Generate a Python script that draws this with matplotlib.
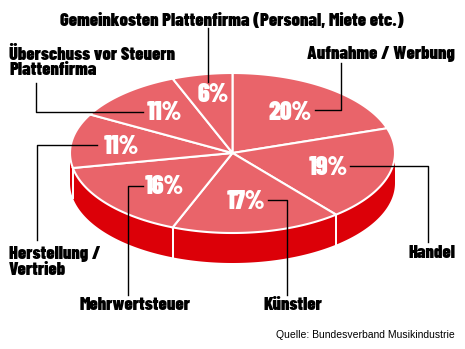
import numpy as np
import matplotlib
matplotlib.use("Agg")
import matplotlib.pyplot as plt
from matplotlib.patches import Polygon

# slices, clockwise from 12 o'clock
labels = ["Aufnahme / Werbung", "Handel", "Künstler", "Mehrwertsteuer",
          "Herstellung /\nVertrieb", "Überschuss vor Steuern\nPlattenfirma",
          "Gemeinkosten Plattenfirma (Personal, Miete etc.)"]
shares = [20, 19, 17, 16, 11, 11, 6]
source = "Quelle: Bundesverband Musikindustrie"

top_color = "#E9646A"
side_color = "#DC0008"
bold_font = ["Barlow Condensed", "DejaVu Sans"]

# ellipse geometry in pixel space
cx, cy, rx, ry, depth = 232.5, 153, 162.5, 80, 30


def ell(theta_deg, dy=0):
    t = np.radians(theta_deg)
    return cx + rx * np.sin(t), cy - ry * np.cos(t) + dy


fig = plt.figure(figsize=(4.65, 3.49), dpi=100)
ax = fig.add_axes([0, 0, 1, 1])
ax.set_xlim(0, 465)
ax.set_ylim(349, 0)
ax.axis("off")

bounds = np.concatenate([[0], np.cumsum(shares)]) / sum(shares) * 360

# side walls (only the front half is visible)
for a0, a1 in zip(bounds[:-1], bounds[1:]):
    s0, s1 = max(a0, 90), min(a1, 270)
    if s1 <= s0:
        continue
    th = np.linspace(s0, s1, 60)
    xt, yt = ell(th)
    xb, yb = ell(th[::-1], depth)
    pts = np.column_stack([np.r_[xt, xb], np.r_[yt, yb]])
    ax.add_patch(Polygon(pts, closed=True, facecolor=side_color,
                         edgecolor="none", zorder=1))
    for a in (a0, a1):
        if 90 < a < 270:
            x, y = ell(a)
            ax.plot([x, x], [y, y + depth], color="white", lw=1.3, zorder=2)

# top face
for a0, a1 in zip(bounds[:-1], bounds[1:]):
    th = np.linspace(a0, a1, 80)
    xs, ys = ell(th)
    pts = np.column_stack([np.r_[cx, xs], np.r_[cy, ys]])
    ax.add_patch(Polygon(pts, closed=True, facecolor=top_color,
                         edgecolor="white", lw=1.5, zorder=3))

# percentage labels
pct_pos = [(290, 113), (328, 168), (246, 202), (164, 187),
           (121, 147), (164, 113), (213, 95)]
for v, (x, y) in zip(shares, pct_pos):
    ax.text(x, y, f"{v}%", color="white", fontsize=18.5, fontweight=900,
            family=bold_font, ha="center", va="center", zorder=5)

# category labels and leaders
lab_pos = [(455, 54, "right"), (455, 253, "right"), (293, 305, "center"),
           (135, 305, "center"), (9, 262, "left"), (9, 62, "left"),
           (232, 21, "center")]
for lab, (x, y, ha) in zip(labels, lab_pos):
    ax.text(x, y, lab, color="black", fontsize=13.2, fontweight=900,
            family=bold_font, ha=ha, va="center", linespacing=0.95, zorder=5)

leaders = [
    [(341, 63), (341, 110), (315, 110)],
    [(350, 166), (428, 166), (428, 242)],
    [(268, 200), (287, 200), (287, 295)],
    [(143, 186), (128, 186), (128, 295)],
    [(97, 145), (37, 145), (37, 240)],
    [(36, 83), (36, 112), (143, 112)],
    [(208, 28), (208, 82)],
]
for seg in leaders:
    xs, ys = zip(*seg)
    ax.plot(xs, ys, color="black", lw=1.0, zorder=6)

ax.text(455, 335, source, fontsize=7.5, family=["Liberation Sans", "DejaVu Sans"],
        ha="right", va="center", color="black")

fig.savefig("out.png", dpi=100)
